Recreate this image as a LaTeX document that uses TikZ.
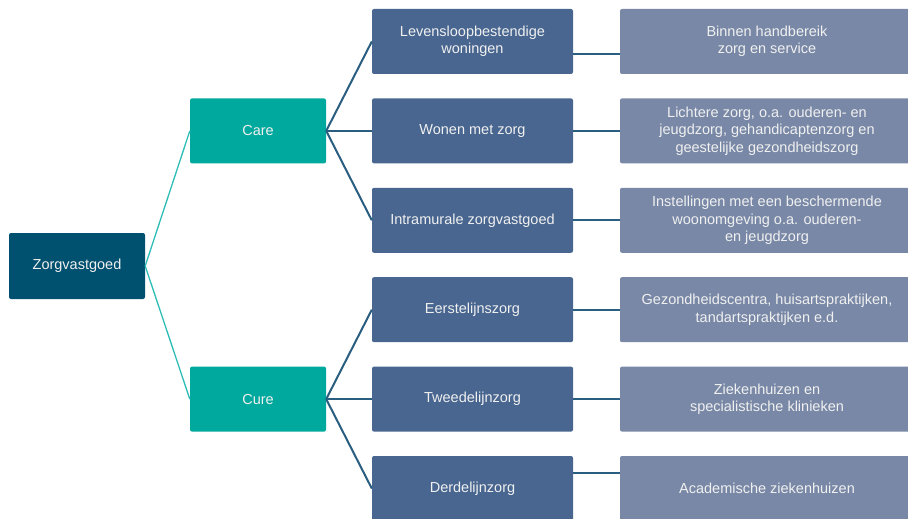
\documentclass[tikz,border=0pt]{standalone}
\usepackage{fontspec}
\setmainfont{Liberation Sans}
\usepackage{tikz}
\usetikzlibrary{positioning}

\definecolor{rootblue}{HTML}{00506F}
\definecolor{teal}{HTML}{00A99D}
\definecolor{midblue}{HTML}{48668F}
\definecolor{lightblue}{HTML}{7888A6}
\definecolor{lineblue}{HTML}{2A5E80}
\definecolor{lineteal}{HTML}{2DBDB6}

\tikzset{
    box/.style = {rectangle, rounded corners = 2pt, text = white!94!black, align = center,
                  font = \fontsize{14.5}{17.5}\selectfont, inner sep = 0pt},
    rootbox/.style = {box, fill = rootblue, minimum width = 136pt, minimum height = 66pt},
    groupbox/.style = {box, fill = teal, minimum width = 136pt, minimum height = 65pt},
    midbox/.style = {box, fill = midblue, minimum width = 201pt, minimum height = 65pt},
    descbox/.style = {box, fill = lightblue, minimum width = 294pt, minimum height = 65pt},
    rootline/.style = {draw = lineteal, line width = 1.3pt},
    conn/.style = {draw = lineblue, line width = 2pt}
}

\begin{document}
\begin{tikzpicture} [x = 1pt, y = -1pt, node distance = 89.4pt, on grid]
    \clip (0,0) rectangle (908,519);
    \useasboundingbox (0,0) rectangle (908,519);

    \node (m1) [midbox] at (472.5,41.5) {Levensloopbestendige\\woningen};
    \node (m2) [midbox, below = of m1] {Wonen met zorg};
    \node (m3) [midbox, below = of m2] {Intramurale zorgvastgoed};
    \node (m4) [midbox, below = of m3] {Eerstelijnszorg};
    \node (m5) [midbox, below = of m4] {Tweedelijnzorg};
    \node (m6) [midbox, below = of m5] {Derdelijnzorg};

    \node (care) [groupbox, left = 214.5pt of m2] {Care};
    \node (cure) [groupbox, left = 214.5pt of m5] {Cure};
    \node (root) [rootbox] at (77,266) {Zorgvastgoed};

    \node (d1) [descbox, right = 294.5pt of m1] {Binnen handbereik\\zorg en service};
    \node (d2) [descbox, right = 294.5pt of m2] {Lichtere zorg, o.a. ouderen- en\\jeugdzorg, gehandicaptenzorg en\\geestelijke gezondheidszorg};
    \node (d3) [descbox, right = 294.5pt of m3] {Instellingen met een beschermende\\woonomgeving o.a. ouderen-\\en jeugdzorg};
    \node (d4) [descbox, right = 294.5pt of m4] {Gezondheidscentra, huisartspraktijken,\\tandartspraktijken e.d.};
    \node (d5) [descbox, right = 294.5pt of m5] {Ziekenhuizen en\\specialistische klinieken};
    \node (d6) [descbox, right = 294.5pt of m6] {Academische ziekenhuizen};

    \path [rootline] (root.east) edge (care.west);
    \path [rootline] (root.east) edge (cure.west);

    \foreach \i in {1,2,3} \path [conn] (care.east) edge (m\i.west);
    \foreach \i in {4,5,6} \path [conn] (cure.east) edge (m\i.west);

    \path [conn] ([yshift = -12.5pt]m1.east) edge ([yshift = -12.5pt]d1.west);
    \foreach \i in {2,3,4,5} \path [conn] (m\i.east) edge (d\i.west);
    \path [conn] ([yshift = 16pt]m6.east) edge ([yshift = 16pt]d6.west);
\end{tikzpicture}
\end{document}
